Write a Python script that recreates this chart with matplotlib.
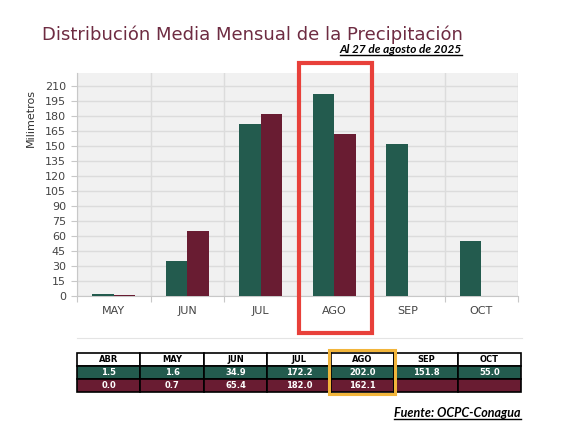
import matplotlib
matplotlib.use("Agg")
from matplotlib import pyplot as plt
from matplotlib.patches import Rectangle
from matplotlib.lines import Line2D
import matplotlib.transforms as mtransforms

# chart data
months = ['MAY', 'JUN', 'JUL', 'AGO', 'SEP', 'OCT']
normal = [1.6, 34.9, 172.2, 202.0, 151.8, 55.0]
actual = [0.7, 65.4, 182.0, 162.1]

# table data
tab_months = ['ABR', 'MAY', 'JUN', 'JUL', 'AGO', 'SEP', 'OCT']
tab_normal = ['1.5', '1.6', '34.9', '172.2', '202.0', '151.8', '55.0']
tab_actual = ['0.0', '0.7', '65.4', '182.0', '162.1', '', '']

yticks = list(range(0, 211, 15))

GREEN = '#235b4e'
MAROON = '#691c32'

W, H = 576, 448
fig = plt.figure(figsize=(W / 100, H / 100), dpi=100)


def fx(px):
    return px / W


def fy(py):
    return 1 - py / H


ax = fig.add_axes([fx(77), fy(296), fx(518) - fx(77), fy(73) - fy(296)])
ax.set_facecolor('#f1f1f1')
w = 0.29
xs = list(range(len(months)))
ax.bar([x - w / 2 for x in xs], normal, width=w, color=GREEN, zorder=3)
ax.bar([x + w / 2 for x in xs[:len(actual)]], actual, width=w, color=MAROON, zorder=3)
ax.set_xlim(-0.5, len(months) - 0.5)
ax.set_ylim(0, 223)
ax.set_yticks(yticks)
ax.set_xticks(xs)
ax.set_xticklabels(months)
ax.set_xticks([x + 0.5 for x in range(-1, len(months))], minor=True)
ax.tick_params(axis='x', which='major', length=0, pad=7, labelsize=8, labelcolor='#444444')
ax.tick_params(axis='x', which='minor', length=4, color='#c8c8c8', width=0.8)
ax.tick_params(axis='y', length=4, color='#c8c8c8', width=0.8, labelsize=8, labelcolor='#444444', pad=4)
ax.grid(axis='y', color='#dcdcdc', lw=1, zorder=0)
ax.grid(axis='x', which='minor', color='#dcdcdc', lw=1, zorder=0)
for s in ['top', 'right']:
    ax.spines[s].set_visible(False)
for s in ['left', 'bottom']:
    ax.spines[s].set_color('#c8c8c8')
fig.text(fx(31), fy(118), 'Milimetros', rotation=90, ha='center', va='center',
         fontsize=8, color='#333333')

# red highlight around AGO
trans = mtransforms.blended_transform_factory(ax.transData, ax.transAxes)
ax.add_patch(Rectangle((2.52, -0.166), 1.0, 1.211, transform=trans, fill=False,
                       ec='#e8403a', lw=3, clip_on=False, zorder=5))

# faint separator line
fig.add_artist(Line2D([fx(77), fx(522)], [fy(338), fy(338)], color='#e4e4e4', lw=0.8))

# title and notes
fig.text(fx(42), fy(40), 'Distribución Media Mensual de la Precipitación',
         fontsize=13, color='#6e2c42', ha='left', va='baseline')


def underlined(x, y, s, size):
    t = fig.text(x, y, s, fontsize=size, fontweight='bold', fontstyle='italic',
                 family='Lato', ha='right', va='baseline', color='black')
    fig.canvas.draw()
    bb = t.get_window_extent().transformed(fig.transFigure.inverted())
    fig.add_artist(Line2D([bb.x0, bb.x1], [y - 0.005, y - 0.005], color='black', lw=1))


underlined(fx(462), fy(53), 'Al 27 de agosto de 2025', 8.5)
underlined(fx(521), fy(417), 'Fuente: OCPC-Conagua', 9)

# table
tax = fig.add_axes([fx(77), fy(392), fx(521) - fx(77), fy(353) - fy(392)])
tax.axis('off')
cell_text = [tab_months, tab_normal, tab_actual]
cell_colours = [['white'] * 7, [GREEN] * 7, [MAROON] * 7]
tbl = tax.table(cellText=cell_text, cellColours=cell_colours, bbox=[0, 0, 1, 1],
                cellLoc='center')
tbl.auto_set_font_size(False)
for (r, c), cell in tbl.get_celld().items():
    cell.set_edgecolor('black')
    cell.set_linewidth(1.2)
    cell.get_text().set_fontsize(6)
    cell.get_text().set_fontweight('bold')
    cell.get_text().set_color('black' if r == 0 else 'white')

tax.add_patch(Rectangle((4 / 7 - 0.004, -0.05), 1 / 7 + 0.006, 1.13,
                        transform=tax.transAxes, fill=False, ec='#f2b53b', lw=2.2,
                        clip_on=False, zorder=10))

fig.savefig('out.png', dpi=100)
